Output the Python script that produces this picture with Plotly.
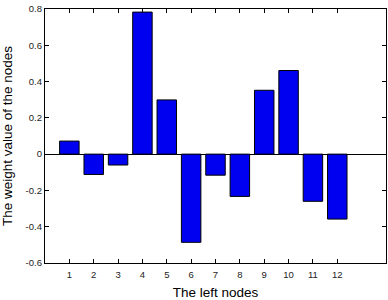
import plotly.graph_objects as go

nodes = [1, 2, 3, 4, 5, 6, 7, 8, 9, 10, 11, 12]
weights = [0.072, -0.112, -0.06, 0.783, 0.299, -0.486, -0.116, -0.233, 0.352, 0.461, -0.26, -0.358]
y_ticks = [-0.6, -0.4, -0.2, 0, 0.2, 0.4, 0.6, 0.8]
y_labels = ["-0.6", "-0.4", "-0.2", "0", "0.2", "0.4", "0.6", "0.8"]

fig = go.Figure(go.Bar(
    x=nodes, y=weights, width=0.8,
    marker=dict(color="#0000F0", line=dict(color="black", width=1)),
))

fig.update_layout(
    width=388, height=300,
    margin=dict(l=45, r=2, t=9, b=37, autoexpand=False),
    plot_bgcolor="white", paper_bgcolor="white",
    showlegend=False,
    font=dict(family="Liberation Sans, Arial, sans-serif", color="black"),
)
fig.update_xaxes(
    range=[0, 14], tickvals=nodes, ticktext=[str(n) for n in nodes],
    ticks="inside", ticklen=4, tickcolor="black",
    showline=True, linecolor="black", linewidth=1.3, mirror="ticks",
    showgrid=False, zeroline=False, automargin=False,
    tickfont=dict(size=9.5, color="#222"), ticklabelstandoff=2,
    title=dict(text="The left nodes", font=dict(size=13.5), standoff=9),
)
fig.update_yaxes(
    range=[-0.6, 0.8], tickvals=y_ticks, ticktext=y_labels,
    ticks="inside", ticklen=4, tickcolor="black",
    showline=True, linecolor="black", linewidth=1.3, mirror="ticks",
    showgrid=False, zeroline=True, zerolinecolor="black", zerolinewidth=1,
    automargin=False,
    tickfont=dict(size=9.5, color="#222"),
    title=dict(text="The weight value of the nodes", font=dict(size=13.5), standoff=9),
)

fig.write_html(
    "out.html",
    config={"displayModeBar": False},
    post_script="document.body.style.margin='0';document.body.style.overflow='hidden';",
)
